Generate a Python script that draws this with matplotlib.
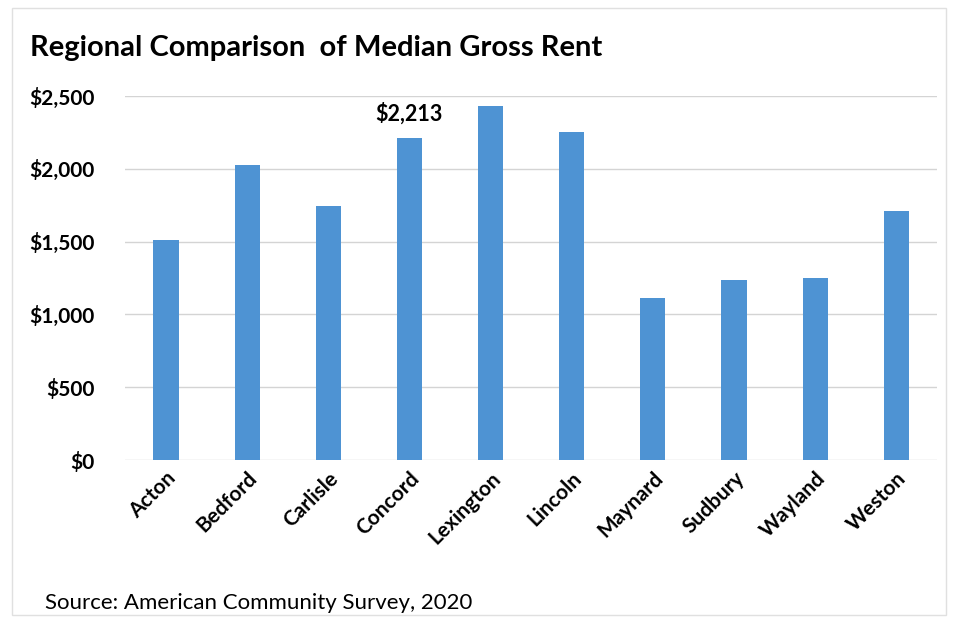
import matplotlib.pyplot as plt
from matplotlib.patches import Rectangle

towns = ['Acton', 'Bedford', 'Carlisle', 'Concord', 'Lexington',
         'Lincoln', 'Maynard', 'Sudbury', 'Wayland', 'Weston']
rent = [1511, 2026, 1745, 2213, 2433, 2255, 1110, 1236, 1252, 1712]
yticks = [0, 500, 1000, 1500, 2000, 2500]
ylabels = ['$0', '$500', '$1,000', '$1,500', '$2,000', '$2,500']

plt.rcParams['font.family'] = ['Lato', 'DejaVu Sans']

fig = plt.figure(figsize=(9.57, 6.28), dpi=100)
ax = fig.add_axes([0.131, 0.2675, 0.848, 0.5795])

x = range(len(towns))
ax.bar(x, rent, width=0.31, color='#4e93d3', zorder=3)
ax.set_ylim(0, 2500)
ax.set_xlim(-0.5, len(towns) - 0.5)
ax.set_yticks(yticks)
ax.set_yticklabels(ylabels, fontsize=15, fontweight='bold')
ax.set_xticks(list(x))
ax.set_xticklabels(towns, rotation=45, ha='right', rotation_mode='anchor',
                   fontsize=15, fontweight='bold')
ax.tick_params(axis='y', length=0, pad=22)
ax.tick_params(axis='x', length=0, pad=6)
ax.grid(axis='y', color='#d4d4d4', linewidth=1, zorder=0)
for s in ax.spines.values():
    s.set_visible(False)

# label on Concord
ax.text(3, rent[3] + 90, '$2,213', ha='center', va='bottom',
        fontsize=15.5, fontweight='bold')

fig.text(0.031, 0.924, 'Regional Comparison  of Median Gross Rent',
         fontsize=21, fontweight='bold', va='center')
fig.text(0.047, 0.04, 'Source: American Community Survey, 2020',
         fontsize=16, va='center')

fig.patches.append(Rectangle((0.013, 0.02), 0.975, 0.968, transform=fig.transFigure,
                             fill=False, edgecolor='#e0e0e0', linewidth=1))

fig.savefig('out.png', dpi=100)
